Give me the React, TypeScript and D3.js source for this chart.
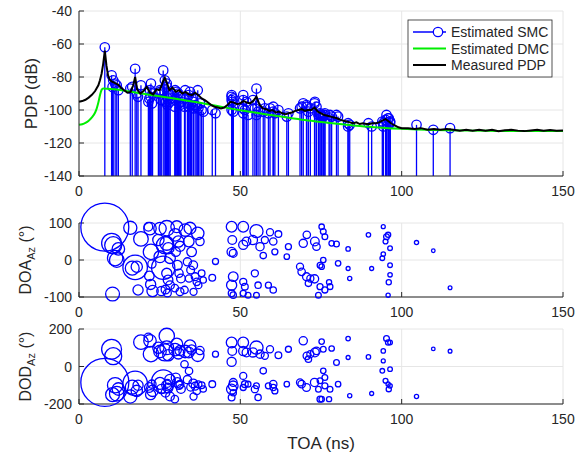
import React from 'react';
import * as d3 from 'd3';

// ---------- tick values ----------
const xTicks = [0, 50, 100, 150];
const pdpTicks = [-140, -120, -100, -80, -60, -40];
const doaTicks = [-100, 0, 100];
const dodTicks = [-200, 0, 200];

// ---------- estimated specular components (SMC) ----------
// delay (ns)
const pathToa = [
  8.0, 10.1, 10.6, 11.2, 11.7, 10.4, 12.2,
  15.9, 16.5, 17.4, 17.9, 18.3, 19.2,
  21.5, 22.0, 22.3, 22.6, 21.8, 22.2, 22.8, 24.6, 25.1, 25.1, 25.5, 26.1, 26.6, 27.2, 27.2, 27.7, 28.2,
  27.2, 27.6, 28.2, 26.8, 27.4, 29.8, 30.3, 30.8, 31.3, 30.0, 30.5, 31.0, 31.6, 29.7, 31.3, 32.7, 32.9,
  34.4, 34.0, 34.9, 35.4, 36.0, 36.5, 37.0, 35.5, 33.6, 34.6, 34.1, 36.8, 37.5, 38.0, 38.5,
  41.3, 42.3,
  47.3, 47.5, 47.3, 47.8, 47.8, 47.3, 47.3, 47.8, 50.9, 50.9, 51.9, 53.9, 50.9, 51.4, 50.9, 52.4,
  55.0, 56.1, 55.0, 54.5, 55.5, 57.6, 57.1, 59.2, 60.2, 58.7, 60.2, 60.7, 61.8, 64.4, 64.9,
  68.5, 69.0, 69.5, 70.6, 70.5, 71.1, 71.7, 73.1, 73.0, 73.6, 74.2, 74.7, 74.7, 75.2, 75.2, 75.7,
  75.7, 76.2, 76.2, 77.8, 78.3, 79.8, 80.3, 77.5,
  83.4, 83.4, 83.9, 89.7, 90.7, 94.3, 95.3, 95.8, 96.4, 94.3, 96.4, 96.4, 95.8, 95.0, 96.0, 94.0,
  104.6, 109.8, 115.0,
];
// power (dB)
const pathPower = [
  -62, -79, -82, -84, -85, -86, -88,
  -87, -86, -75, -90, -92, -85,
  -95, -88, -84, -96, -93, -92, -90, -90, -88, -89, -94, -76, -82, -84, -86, -90, -91,
  -92, -93, -95, -95, -97, -88, -89, -90, -92, -94, -93, -96, -95, -98, -97, -98, -88,
  -89, -91, -93, -95, -97, -98, -99, -99, -96, -97, -98, -88, -96, -100, -101,
  -100, -102,
  -91, -95, -94, -97, -93, -92, -100, -101, -91, -94, -95, -94, -99, -100, -102, -103,
  -87, -96, -103, -99, -101, -99, -101, -99, -98, -102, -101, -102, -100, -104, -102,
  -99, -98, -96, -98, -97, -101, -99, -95, -96, -98, -103, -103, -102, -104, -104, -103,
  -104, -103, -102, -103, -104, -103, -104, -105,
  -108, -110, -109, -108, -110, -110, -103, -105, -107, -108, -107, -108, -109, -106, -105, -107,
  -109, -112, -111,
];
// direction of arrival, azimuth (deg)
const pathDoa = [
  89, 45, 40, 5, 0, -92, 30,
  87, -22, -20, -18, -81, 57,
  90, 85, 22, -11, -43, -66, -84, 54, 85, 9, -84, -21, 40, 86, 45, 32, 5,
  -36, -54, -68, -80, -89, 68, 90, 50, 37, 22, -14, -36, -50, -76, -86, -81, 81,
  86, 50, 22, -14, -45, -59, -68, -86, -5, -27, -50, 72, 50, -36, -54,
  -48, -4,
  90, 54, 22, 18, -45, -68, -90, -95, 90, 41, 50, 54, -59, -72, -90, -95,
  78, 36, -95, -36, -68, 54, 12, 75, 50, -68, -81, 22, 70, 9, 36,
  -18, -32, 45, 68, -45, -63, -50, 50, -51, 36, -95, -14, -72, 90, -18, 77,
  0, 63, -81, -72, 45, 43, -9, -60,
  30, -23, -50, 68, -23, 90, 63, 68, 32, 16, -14, -40, -95, 50, -60, 5,
  47, 25, -75,
];
// direction of departure, azimuth (deg)
const pathDod = [
  -85, 92, 55, -100, -145, -150, -120,
  -160, -110, -90, -130, -100, 130,
  155, 137, 66, -94, -112, -150, -130, 100, 80, -90, -120, -80, 75, 163, 100, 60, -70,
  -100, -115, -160, -140, -90, 90, 120, 70, 85, -60, -85, -100, -120, -174, -95, 12, 80,
  110, 75, 90, -90, -105, -130, -95, -160, -70, -110, -24, 60, 85, -100, -120,
  -94, 66,
  128, 83, 25, -85, -103, -121, -165, -140, 128, 83, 75, 75, -50, -94, -112, -94,
  101, 66, -103, -121, -165, 57, -23, 92, -94, -103, -112, -130, 60, -94, 92,
  -85, -94, 137, 57, -112, 39, 66, 75, -85, 83, -121, -76, -174, 133, -174, 92,
  -23, -59, -103, -121, 96, 21, -94, -174,
  149, 48, -156, 51, -144, 30, 149, 128, 128, 83, -14, -103, -94, -76, -121, -23,
  -160, 94, 82,
];

// ---------- measured PDP (black) ----------
const pdpCurve: [number, number][] = [
  [0, -95], [1, -94.6], [2, -93.8], [3, -92.5], [4, -90.8], [5, -88.5], [6, -85], [6.5, -82], [7, -78],
  [7.5, -72], [8, -64], [8.5, -73], [9, -79], [9.5, -81.5], [10, -82.5], [11, -83.5], [12, -84.5],
  [13, -86.5], [14, -88], [15, -89.5], [16, -89], [16.8, -85], [17.4, -80], [18, -87.5], [19, -90],
  [20, -88.5], [21, -86], [22, -89.5], [23, -90.5], [24, -87.5], [25, -88], [26, -83], [26.6, -80.5],
  [27.5, -85], [28, -88], [29, -86.5], [30, -89], [31, -88], [32, -90], [33, -89], [34, -90.5],
  [35, -91], [36, -89.5], [37, -91], [38, -93], [39, -94], [40, -95.5], [41, -97], [42, -98],
  [43, -98.5], [44, -99], [45, -98.5], [46, -97], [47, -95], [48, -95.5], [49, -96.5], [50, -96],
  [51, -94.5], [52, -95.5], [53, -96], [54, -94.5], [55, -92], [56, -97], [57, -99], [58, -99.5],
  [59, -100.5], [60, -100], [61, -101.5], [62, -101], [63, -102], [64, -102.5], [65, -102],
  [66, -101.5], [67, -100.5], [68, -100], [69, -99.5], [70, -100.5], [71, -100], [72, -100],
  [73, -98.5], [74, -101], [75, -102], [76, -103], [77, -103.5], [78, -104], [79, -104.5],
  [80, -105], [81, -106], [82, -106.5], [83, -107], [84, -107.5], [85, -108], [86, -107.5],
  [87, -108.5], [88, -108], [89, -108.5], [90, -108.5], [91, -108], [92, -108], [93, -107.5],
  [94, -106.5], [95, -105.5], [96, -107], [97, -108.5], [98, -109.5], [99, -110.5], [100, -111],
  [102, -111], [104, -111.5], [106, -111], [108, -112], [110, -111.5], [112, -112], [114, -111.5],
  [116, -112], [118, -112.5], [120, -112], [122, -112.5], [124, -112], [126, -112.5], [128, -112],
  [130, -112.8], [132, -112.3], [134, -112], [136, -112.5], [138, -112.8], [140, -112.4],
  [142, -112], [144, -112.5], [146, -112.1], [148, -112.5], [150, -112.4],
];

// ---------- estimated DMC (green) ----------
const dmcCurve: [number, number][] = [
  [0, -109], [1, -108.6], [2, -107.8], [3, -106.5], [4, -104.5], [5, -101.5], [5.5, -99], [6, -95.5],
  [6.5, -91], [7, -87.8], [7.5, -87], [10, -87.3], [15, -88.6], [20, -90.2], [25, -91.7], [30, -93.2],
  [35, -94.8], [40, -96.5], [45, -98.4], [50, -100.1], [55, -101.7], [60, -103.2], [65, -104.7],
  [70, -106.1], [75, -107.3], [80, -108.4], [85, -109.4], [90, -110.2], [95, -110.9], [100, -111.4],
  [105, -111.8], [110, -112.1], [120, -112.5], [130, -112.7], [140, -112.8], [150, -112.8],
];

const legendLabels = ['Estimated SMC', 'Estimated DMC', 'Measured PDP'];

const FONT = '"Liberation Sans", Arial, Helvetica, sans-serif';
const AX = '#262626';
const GRID = '#e6e6e6';
const BLUE = '#0000ff';
const GREEN = '#00ee00';

const x = d3.scaleLinear().domain([0, 150]).range([79, 563]);
const yP = d3.scaleLinear().domain([-140, -40]).range([176, 11]);
const yA = d3.scaleLinear().domain([-100, 100]).range([297, 223]);
const yD = d3.scaleLinear().domain([-200, 200]).range([404, 329]);
// marker radius grows with path power (dB)
const rScale = d3.scaleLog().domain([Math.pow(10, -11.2), Math.pow(10, -6.2)]).range([Math.log10(1.8), Math.log10(24)]);
const rad = (p: number) => Math.max(1.5, Math.pow(10, rScale(Math.pow(10, p / 10))));

function Axes({ y, ticks }: { y: d3.ScaleLinear<number, number>; ticks: number[] }) {
  const [y0, y1] = y.range();
  const x0 = x(0), x1 = x(150);
  return (
    <g>
      {xTicks.map(t => (
        <line key={'gx' + t} x1={x(t)} x2={x(t)} y1={y0} y2={y1} stroke={GRID} strokeWidth={1} />
      ))}
      {ticks.map(t => (
        <line key={'gy' + t} x1={x0} x2={x1} y1={y(t)} y2={y(t)} stroke={GRID} strokeWidth={1} />
      ))}
    </g>
  );
}

function AxisLines({ y, ticks }: { y: d3.ScaleLinear<number, number>; ticks: number[] }) {
  const [y0, y1] = y.range();
  const x0 = x(0), x1 = x(150);
  return (
    <g fontFamily={FONT} fontSize={14} fill={AX}>
      <line x1={x0} x2={x0} y1={y0} y2={y1} stroke={AX} strokeWidth={1} />
      <line x1={x0} x2={x1} y1={y0} y2={y0} stroke={AX} strokeWidth={1} />
      {xTicks.map(t => (
        <g key={'tx' + t}>
          <line x1={x(t)} x2={x(t)} y1={y0} y2={y0 - 5} stroke={AX} strokeWidth={1} />
          <text x={x(t)} y={y0 + 20} textAnchor="middle">{t}</text>
        </g>
      ))}
      {ticks.map(t => (
        <g key={'ty' + t}>
          <line x1={x0} x2={x0 + 5} y1={y(t)} y2={y(t)} stroke={AX} strokeWidth={1} />
          <text x={x0 - 7} y={y(t) + 5} textAnchor="end">{t}</text>
        </g>
      ))}
    </g>
  );
}

export default function App() {
  const n = pathToa.length;
  const idx = d3.range(n);
  const line = d3.line<[number, number]>().x(d => x(d[0])).y(d => yP(d[1]));
  const order = idx.slice().sort((a, b) => pathPower[a] - pathPower[b]);
  return (
    <svg width={579} height={454} style={{ position: 'absolute', left: 0, top: 0, background: '#fff' }}>
      {/* ---------------- PDP panel ---------------- */}
      <Axes y={yP} ticks={pdpTicks} />
      <g>
        {idx.map(i => (
          <line key={'s' + i} x1={x(pathToa[i])} x2={x(pathToa[i])} y1={yP(-140)} y2={yP(pathPower[i])}
            stroke={BLUE} strokeWidth={1.3} />
        ))}
        {idx.map(i => (
          <circle key={'c' + i} cx={x(pathToa[i])} cy={yP(pathPower[i])} r={4.7}
            fill="none" stroke={BLUE} strokeWidth={1.3} />
        ))}
      </g>
      <path d={line.curve(d3.curveMonotoneX)(dmcCurve) || ''} fill="none" stroke={GREEN} strokeWidth={2} />
      <path d={d3.line<[number, number]>().x(d => x(d[0])).y(d => yP(d[1]))(pdpCurve) || ''} fill="none" stroke="#000" strokeWidth={2} />
      <AxisLines y={yP} ticks={pdpTicks} />

      {/* legend */}
      <g fontFamily={FONT} fontSize={14} fill={AX}>
        <rect x={408} y={20} width={144} height={57} fill="#fff" stroke={AX} strokeWidth={0.8} />
        {legendLabels.map((lab, k) => {
          const ly = [32, 48.5, 65][k];
          const col = [BLUE, GREEN, '#000'][k];
          return (
            <g key={lab}>
              <line x1={413} x2={446} y1={ly} y2={ly} stroke={col} strokeWidth={k === 0 ? 1.3 : 2} />
              {k === 0 && <circle cx={438} cy={ly} r={4.7} fill="#fff" stroke={BLUE} strokeWidth={1.3} />}
              <text x={451} y={ly + 5}>{lab}</text>
            </g>
          );
        })}
      </g>

      {/* ---------------- DOA panel ---------------- */}
      <Axes y={yA} ticks={doaTicks} />
      <AxisLines y={yA} ticks={doaTicks} />
      <g>
        {order.map(i => (
          <circle key={'a' + i} cx={x(pathToa[i])} cy={yA(pathDoa[i])} r={rad(pathPower[i])}
            fill="none" stroke={BLUE} strokeWidth={1.3} />
        ))}
      </g>

      {/* ---------------- DOD panel ---------------- */}
      <Axes y={yD} ticks={dodTicks} />
      <AxisLines y={yD} ticks={dodTicks} />
      <g>
        {order.map(i => (
          <circle key={'d' + i} cx={x(pathToa[i])} cy={yD(pathDod[i])} r={rad(pathPower[i])}
            fill="none" stroke={BLUE} strokeWidth={1.3} />
        ))}
      </g>

      {/* ---------------- axis labels ---------------- */}
      <g fontFamily={FONT} fill={AX}>
        <text transform={`translate(37,${(yP(-40) + yP(-140)) / 2}) rotate(-90)`} textAnchor="middle" fontSize={17}>PDP (dB)</text>
        <text transform={`translate(31,${(yA(100) + yA(-100)) / 2}) rotate(-90)`} textAnchor="middle" fontSize={16}>
          DOA<tspan fontSize={11} dy={4}>Az</tspan><tspan dy={-4}> (°)</tspan>
        </text>
        <text transform={`translate(31,${(yD(200) + yD(-200)) / 2}) rotate(-90)`} textAnchor="middle" fontSize={16}>
          DOD<tspan fontSize={11} dy={4}>Az</tspan><tspan dy={-4}> (°)</tspan>
        </text>
        <text x={(x(0) + x(150)) / 2} y={449} textAnchor="middle" fontSize={17}>TOA (ns)</text>
      </g>
    </svg>
  );
}
